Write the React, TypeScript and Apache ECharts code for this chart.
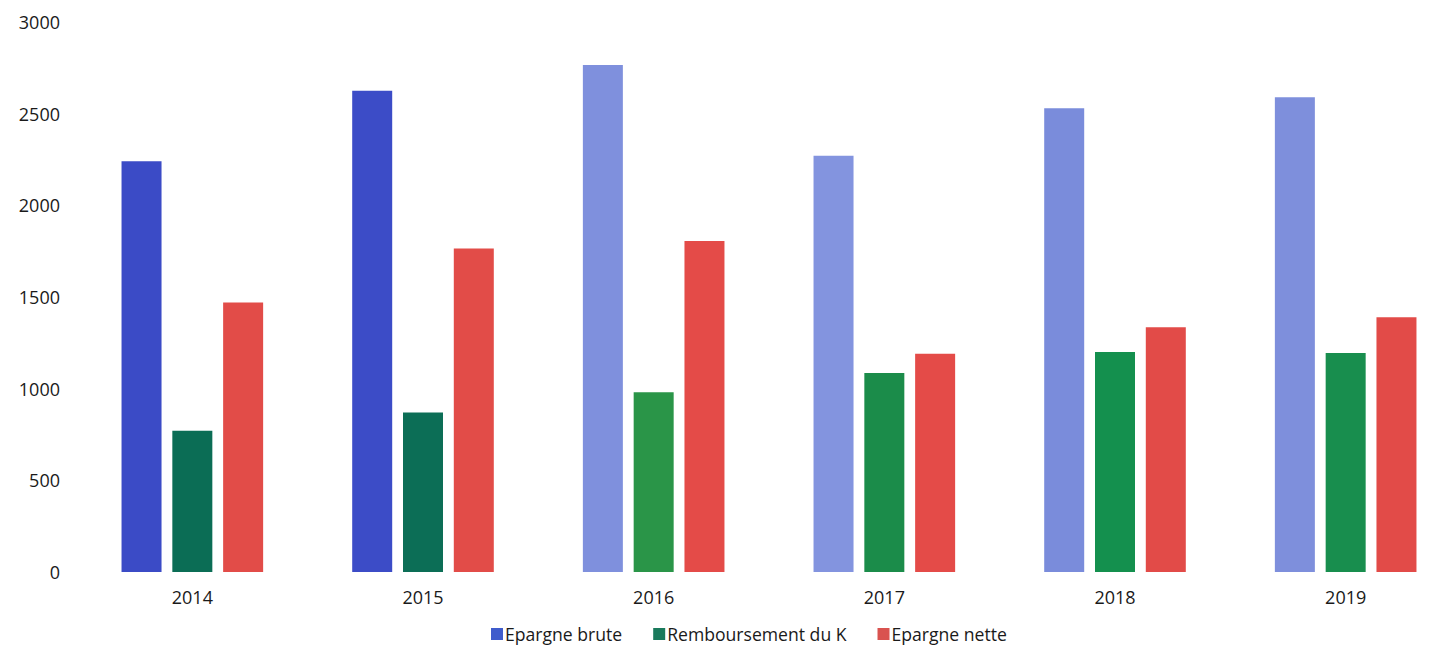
import React, { useEffect, useRef } from "react";
import * as echarts from "echarts";

const years = ["2014", "2015", "2016", "2017", "2018", "2019"];
const epargneBrute = [2240, 2625, 2765, 2270, 2530, 2590];
const remboursementK = [770, 870, 980, 1085, 1200, 1195];
const epargneNette = [1470, 1765, 1805, 1190, 1335, 1390];
const yTicks = [0, 500, 1000, 1500, 2000, 2500, 3000];

const blueShades = ["#3b4bc6", "#3c4cc7", "#7f90dd", "#8394df", "#7a8cdb", "#7e8fdc"];
const greenShades = ["#0b6d55", "#0c6e56", "#2a9548", "#1b8c4a", "#14904e", "#188e4e"];
const redShades = ["#e24c48", "#e24c48", "#e44b48", "#e44b48", "#e24b48", "#e24b48"];

export default function App() {
  const ref = useRef<HTMLDivElement>(null);
  useEffect(() => {
    if (!ref.current) return;
    const chart = echarts.init(ref.current, null, { renderer: "svg" });
    const font = "'Open Sans', 'Noto Sans', sans-serif";
    const mk = (vals: number[], shades: string[]) =>
      vals.map((v, i) => ({ value: v, itemStyle: { color: shades[i] } }));
    chart.setOption({
      animation: false,
      backgroundColor: "#ffffff",
      textStyle: { fontFamily: font },
      grid: { left: 77, top: 22, right: 0, height: 550, containLabel: false },
      legend: {
        bottom: 3,
        left: 486,
        itemWidth: 12,
        itemHeight: 12,
        itemGap: 31,
        icon: "rect",
        textStyle: { fontSize: 17.6, color: "#1a1a1a", fontFamily: font, padding: [0, 0, 0, -3] },
        data: ["Epargne brute", "Remboursement du K", "Epargne nette"],
      },
      xAxis: {
        type: "category",
        data: years,
        axisLine: { show: false },
        axisTick: { show: false },
        axisLabel: { fontSize: 18, color: "#1a1a1a", margin: 16, fontFamily: font },
      },
      yAxis: {
        type: "value",
        min: yTicks[0],
        max: yTicks[yTicks.length - 1],
        interval: 500,
        splitLine: { show: false },
        axisLine: { show: false },
        axisTick: { show: false },
        axisLabel: {
          fontSize: 18,
          color: "#1a1a1a",
          margin: 17,
          fontFamily: font,
          formatter: (v: number) => String(v),
        },
      },
      series: [
        {
          name: "Epargne brute",
          type: "bar",
          barWidth: 40,
          barGap: "27%",
          itemStyle: { color: "#3f5ccc" },
          data: mk(epargneBrute, blueShades),
        },
        {
          name: "Remboursement du K",
          type: "bar",
          barWidth: 40,
          barGap: "27%",
          itemStyle: { color: "#1a7a5c" },
          data: mk(remboursementK, greenShades),
        },
        {
          name: "Epargne nette",
          type: "bar",
          barWidth: 40,
          barGap: "27%",
          itemStyle: { color: "#d9534f" },
          data: mk(epargneNette, redShades),
        },
      ],
    });
    return () => chart.dispose();
  }, []);
  return (
    <div style={{ width: 1433, height: 651, position: "absolute", left: 0, top: 0, overflow: "hidden" }}>
      <div ref={ref} style={{ width: 1461, height: 651 }} />
    </div>
  );
}
